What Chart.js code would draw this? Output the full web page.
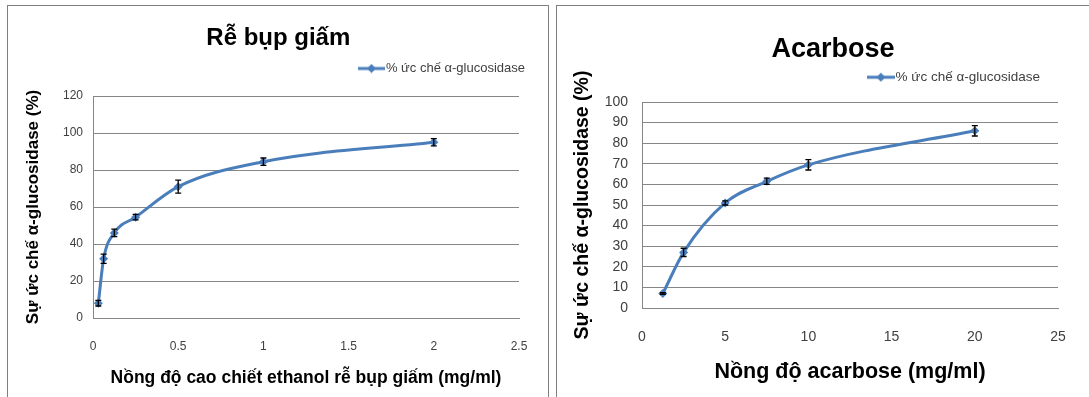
<!DOCTYPE html>
<html>
<head>
<meta charset="utf-8">
<script src="https://cdn.jsdelivr.net/npm/chart.js@4/dist/chart.umd.min.js"></script>
<style>
  body { margin: 0; background: #fff; width: 1089px; height: 397px; overflow: hidden; position: relative; }
  .panel { position: absolute; top: 5px; border-top: 1px solid #7f7f7f; border-left: 1px solid #7f7f7f; height: 392px; }
  #panel1 { left: 7px; border-right: 1px solid #7f7f7f; }
  #panel2 { left: 556px; }
  canvas { display: block; }
</style>
</head>
<body>
<div class="panel" id="panel1"><canvas id="chart1" width="540" height="391"></canvas></div>
<div class="panel" id="panel2"><canvas id="chart2" width="532" height="391"></canvas></div>
<script>
// chart 1: ethanol extract
const extractDose = [0.03125, 0.0625, 0.125, 0.25, 0.5, 1, 2];
const extractInhibition = [8, 32, 46, 54.5, 71, 84.5, 95];
const extractError = [1.5, 2.5, 2, 1.5, 3.5, 2, 2];
const extractXTicks = [0, 0.5, 1, 1.5, 2, 2.5];
const extractYTicks = [0, 20, 40, 60, 80, 100, 120];

// chart 2: acarbose
const acarboseDose = [1.25, 2.5, 5, 7.5, 10, 20];
const acarboseInhibition = [7, 27, 51, 61.5, 69.5, 86];
const acarboseError = [0.4, 2, 1, 1.5, 2.5, 2.5];
const acarboseXTicks = [0, 5, 10, 15, 20, 25];
const acarboseYTicks = [0, 10, 20, 30, 40, 50, 60, 70, 80, 90, 100];

const seriesLabel = '% ức chế α-glucosidase';
const BLUE = '#4a7ebb';
const FONT = "'Liberation Sans', Arial, sans-serif";

Chart.defaults.font.family = FONT;
Chart.defaults.color = '#404040';

// legend marker: line with diamond
function legendMarker(w) {
  const c = document.createElement('canvas');
  c.width = w; c.height = 10;
  const g = c.getContext('2d');
  g.strokeStyle = BLUE; g.lineWidth = 3;
  g.beginPath(); g.moveTo(0, 5); g.lineTo(w, 5); g.stroke();
  g.fillStyle = BLUE;
  g.beginPath(); g.moveTo(w / 2, 0.5); g.lineTo(w / 2 + 4.5, 5); g.lineTo(w / 2, 9.5); g.lineTo(w / 2 - 4.5, 5); g.closePath(); g.fill();
  return c;
}

const errorBars = {
  id: 'errorBars',
  afterDatasetsDraw(chart, args, opts) {
    const { ctx, scales: { x, y } } = chart;
    const pts = chart.data.datasets[0].data;
    ctx.save();
    ctx.strokeStyle = '#000';
    ctx.lineWidth = 1.3;
    pts.forEach((p, i) => {
      const px = x.getPixelForValue(p.x);
      const hi = y.getPixelForValue(p.y + opts.values[i]);
      const lo = y.getPixelForValue(p.y - opts.values[i]);
      ctx.beginPath();
      ctx.moveTo(px, hi); ctx.lineTo(px, lo);
      ctx.moveTo(px - 3, hi); ctx.lineTo(px + 3, hi);
      ctx.moveTo(px - 3, lo); ctx.lineTo(px + 3, lo);
      ctx.stroke();
    });
    ctx.restore();
  }
};

function makeChart(id, s) {
  const ctx = document.getElementById(id).getContext('2d');
  const boxW = 16;
  return new Chart(ctx, {
    type: 'line',
    data: {
      datasets: [{
        label: seriesLabel,
        data: s.dose.map((d, i) => ({ x: d, y: s.values[i] })),
        xAxisID: 'x',
        yAxisID: 'y',
        borderColor: BLUE,
        backgroundColor: BLUE,
        borderWidth: 3,
        pointStyle: 'rectRot',
        pointRadius: 4.5,
        pointBorderWidth: 0,
        cubicInterpolationMode: 'monotone',
      }]
    },
    options: {
      responsive: false,
      animation: false,
      devicePixelRatio: 1,
      layout: { padding: { left: s.padLeft, right: s.padRight, top: 0, bottom: 0 } },
      plugins: {
        title: {
          display: true,
          text: s.title,
          color: '#000',
          font: { size: s.titleSize, weight: 'bold' },
          padding: { top: s.titleTop, bottom: s.titleBottom },
        },
        legend: {
          align: 'end',
          fullSize: s.legendFull,
          labels: {
            usePointStyle: true,
            pointStyleWidth: boxW,
            generateLabels: () => [{
              text: seriesLabel,
              pointStyle: legendMarker(Math.round(boxW + s.legendSize - 2)),
              fontColor: '#404040',
              lineWidth: 0
            }],
            font: { size: s.legendSize },
            padding: s.legendPad,
          }
        },
        tooltip: { enabled: false },
        errorBars: { values: s.errors },
      },
      scales: {
        x: {
          type: 'linear',
          min: s.xTicks[0],
          max: s.xTicks[s.xTicks.length - 1],
          afterBuildTicks: (sc) => { sc.ticks = s.xTicks.map(v => ({ value: v })); },
          afterFit: (sc) => { sc.height = s.xHeight; sc.paddingRight = s.areaRight; },
          grid: { display: false },
          border: { color: '#868686' },
          ticks: { font: { size: s.tickSize }, padding: s.xTickPad, maxRotation: 0, callback: v => String(v) },
          title: {
            display: true, text: s.xTitle, color: '#000',
            font: { size: s.xTitleSize, weight: 'bold' },
            padding: { top: 0, bottom: s.xTitleBottom },
          },
        },
        // empty band between legend and plot area
        gap: {
          type: 'linear',
          position: 'top',
          grid: { display: false },
          border: { display: false },
          ticks: { display: false },
          afterFit: (sc) => { sc.height = s.gap; },
        },
        y: {
          min: s.yTicks[0],
          max: s.yTicks[s.yTicks.length - 1],
          afterBuildTicks: (sc) => { sc.ticks = s.yTicks.map(v => ({ value: v })); },
          afterFit: (sc) => { sc.width = s.yWidth; },
          grid: { color: '#868686', drawTicks: false },
          border: { color: '#868686' },
          ticks: { font: { size: s.tickSize }, padding: s.yTickPad },
          title: {
            display: true, text: 'Sự ức chế α-glucosidase (%)', color: '#000',
            font: { size: s.yTitleSize, weight: 'bold' },
            padding: { top: 1, bottom: 0 },
          },
        }
      }
    },
    plugins: [errorBars]
  });
}

makeChart('chart1', {
  dose: extractDose, values: extractInhibition, errors: extractError,
  xTicks: extractXTicks, yTicks: extractYTicks,
  title: 'Rễ bụp giấm', titleSize: 24, titleTop: 17.6, titleBottom: 0,
  legendSize: 13, legendPad: 9.6, legendFull: true, gap: 11,
  xTitle: 'Nồng độ cao chiết ethanol rễ bụp giấm (mg/ml)', xTitleSize: 17.5, xTitleBottom: 8.5,
  yTitleSize: 17,
  padLeft: 14, padRight: 13.4, yWidth: 71, areaRight: 29, xHeight: 79,
  tickSize: 12, xTickPad: 13.3, yTickPad: 10,
});

makeChart('chart2', {
  dose: acarboseDose, values: acarboseInhibition, errors: acarboseError,
  xTicks: acarboseXTicks, yTicks: acarboseYTicks,
  title: 'Acarbose', titleSize: 27, titleTop: 27.8, titleBottom: -13.7,
  legendSize: 13.5, legendPad: 18, legendFull: false, gap: 8,
  xTitle: 'Nồng độ acarbose (mg/ml)', xTitleSize: 21.5, xTitleBottom: 12.1,
  yTitleSize: 19.5,
  padLeft: 13, padRight: -7, yWidth: 72, areaRight: 31, xHeight: 89,
  tickSize: 14, xTickPad: 13, yTickPad: 14,
});
</script>
</body>
</html>
